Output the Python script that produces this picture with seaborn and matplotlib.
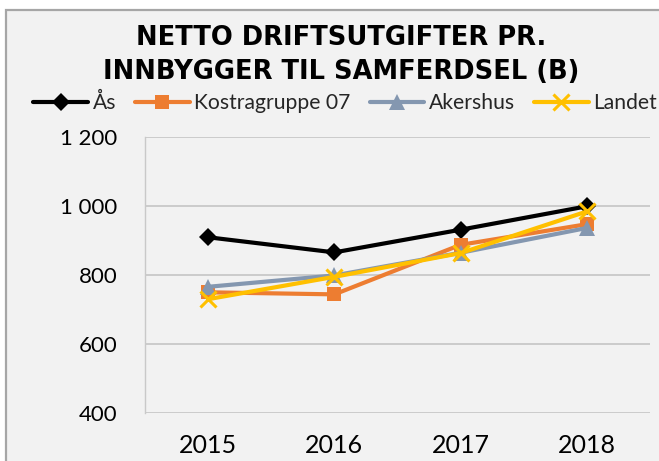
import matplotlib

matplotlib.use("Agg")
import matplotlib.pyplot as plt
import pandas as pd
import seaborn as sns
from matplotlib.patches import Rectangle

# data
years = ["2015", "2016", "2017", "2018"]
aas = [910, 866, 932, 1000]
kostra07 = [750, 744, 888, 948]
akershus = [766, 799, 865, 937]
landet = [730, 795, 864, 985]
series_names = ["Ås", "Kostragruppe 07", "Akershus", "Landet"]
y_ticks = [400, 600, 800, 1000, 1200]
y_tick_labels = ["400", "600", "800", "1 000", "1 200"]
title = "NETTO DRIFTSUTGIFTER PR.\nINNBYGGER TIL SAMFERDSEL (B)"

BG = "#f2f2f2"
GRID = "#c9c9c9"
styles = {
    "Ås": dict(color="#000000", marker="D", markersize=9),
    "Kostragruppe 07": dict(color="#ed7d31", marker="s", markersize=10),
    "Akershus": dict(color="#8497b0", marker="^", markersize=11),
    "Landet": dict(color="#ffc000", marker="x", markersize=12, markeredgewidth=2.2),
}

df = pd.DataFrame({
    "year": years * 4,
    "value": aas + kostra07 + akershus + landet,
    "series": [s for s in series_names for _ in years],
})

sns.set_theme(style="white")
plt.rcParams["font.family"] = ["Lato", "DejaVu Sans"]

fig = plt.figure(figsize=(6.59, 4.61), dpi=100, facecolor="white")
fig.patches.append(Rectangle((6 / 659, -0.1), 1.2, 1 - 10 / 461 + 0.1,
                             transform=fig.transFigure, facecolor=BG,
                             edgecolor="#a6a6a6", linewidth=1.6, zorder=-10))

ax = fig.add_axes([145 / 659, 1 - 412.7 / 461, 505 / 659, (412.7 - 137.5) / 461])
ax.set_facecolor("none")

for name in series_names:
    st = styles[name]
    sns.lineplot(data=df[df["series"] == name], x="year", y="value", ax=ax,
                 color=st["color"], marker=st["marker"], markersize=st["markersize"],
                 markeredgewidth=st.get("markeredgewidth", 0),
                 markeredgecolor=st["color"], linewidth=3, label=name,
                 sort=False)

ax.set_xlim(-0.5, 3.5)
ax.set_ylim(400, 1200)
ax.set_yticks(y_ticks)
ax.set_yticklabels(y_tick_labels)
ax.yaxis.grid(True, color=GRID, linewidth=1.3)
ax.set_axisbelow(True)
ax.set_xlabel("")
ax.set_ylabel("")
for side in ["top", "right", "bottom"]:
    ax.spines[side].set_visible(False)
ax.spines["left"].set_color(GRID)
ax.spines["left"].set_linewidth(1.0)
ax.tick_params(axis="y", length=0, pad=20, labelsize=16, colors="#000000")
ax.tick_params(axis="x", length=0, pad=15, labelsize=18, colors="#000000")

ax.legend(loc="center", bbox_to_anchor=(345 / 659, 1 - 103 / 461),
          bbox_transform=fig.transFigure, ncol=4, frameon=False,
          fontsize=15.2, handlelength=2.6, columnspacing=0.9, handletextpad=0.2)

fig.text(341 / 659, 1 - 55 / 461, title, ha="center", va="center",
         fontsize=18.5, fontweight="bold", family="DejaVu Sans",
         linespacing=1.4, color="#000000")

fig.savefig("out.png", dpi=100, facecolor=fig.get_facecolor())
